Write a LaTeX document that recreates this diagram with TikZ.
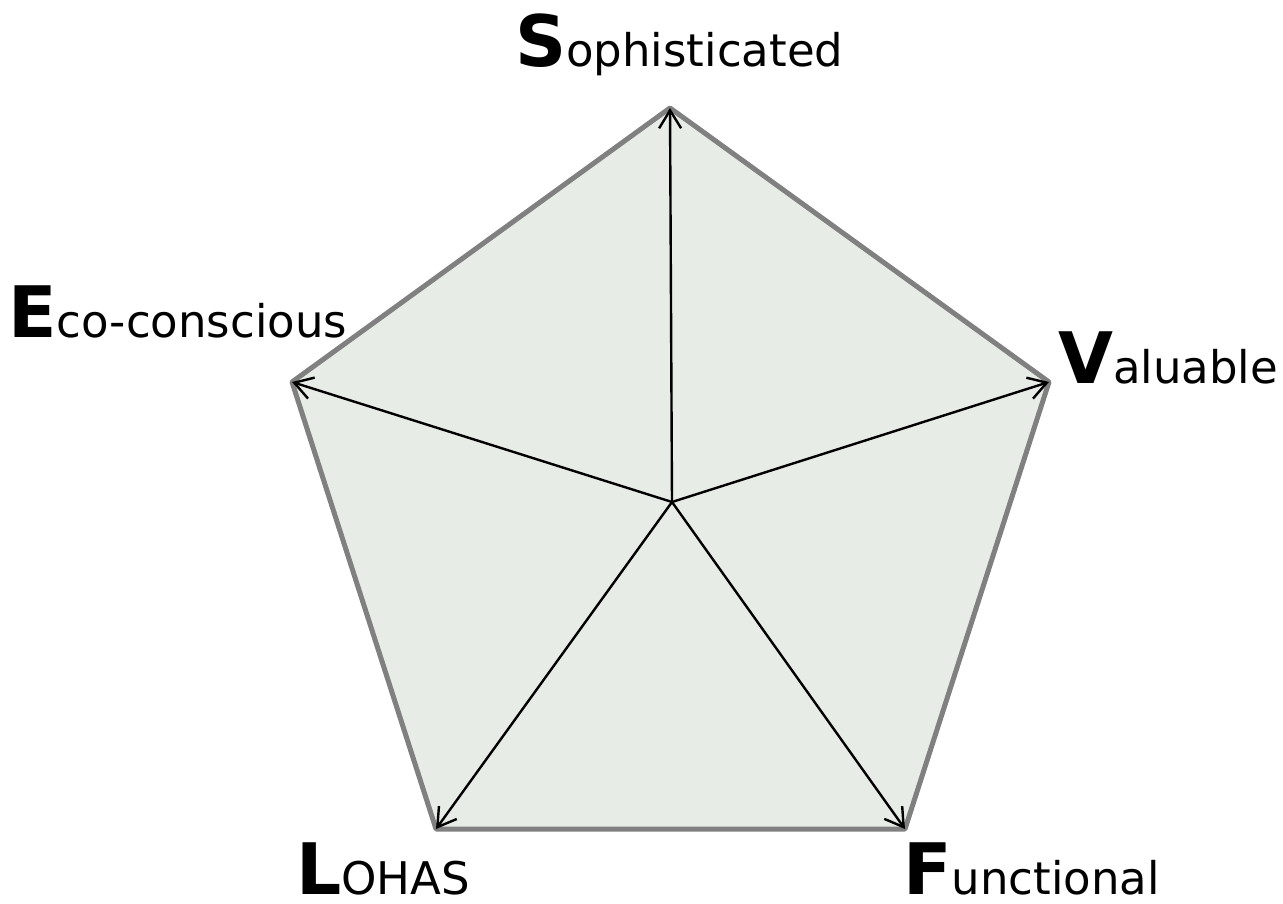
\documentclass[tikz,border=0pt]{standalone}
\usepackage{fontspec}
\setmainfont{DejaVu Sans}
\usetikzlibrary{arrows.meta,positioning}
\definecolor{facefill}{RGB}{232,236,230}
\definecolor{edgegray}{RGB}{128,128,128}
\newcommand{\initial}[2]{{\fontsize{71}{76}\selectfont\bfseries #1}{\fontsize{45}{50}\selectfont #2}}
\tikzset{
  axis/.style={-{Straight Barb[length=18pt,width=22pt,line width=2.4pt]}, line width=2.4pt, black},
  face/.style={fill=facefill, draw=edgegray, line width=5pt, line join=round},
  tag/.style={anchor=base west, inner sep=0pt}
}

\begin{document}
\begin{tikzpicture}[x=1pt, y=-1pt]
    \useasboundingbox (0,0) rectangle (1283,904);
    % vertices of the pentagon
    \coordinate (ctr) at (672,502);
    \coordinate (top) at (670,108);
    \coordinate (ul) at (292,382);
    \coordinate (ur) at (1049,382);
    \coordinate (ll) at (436,829);
    \coordinate (lr) at (905,829);
    \draw[face] (top) -- (ur) -- (lr) -- (ll) -- (ul) -- cycle;
    \foreach \v in {top,ur,lr,ll,ul}
      \draw[axis] (ctr) -- (\v);
    % labels
    \node[tag] (soph) at (515,67) {\initial{S}{ophisticated}};
    \node[tag] (eco) at (8,337) {\initial{E}{co-conscious}};
    \node[tag] (val) at (1058,383) {\initial{V}{aluable}};
    \node[tag] (lohas) at (296,894) {\initial{L}{OHAS}};
    \node[tag] (func) at (903,894) {\initial{F}{unctional}};
  \end{tikzpicture}
\end{document}
